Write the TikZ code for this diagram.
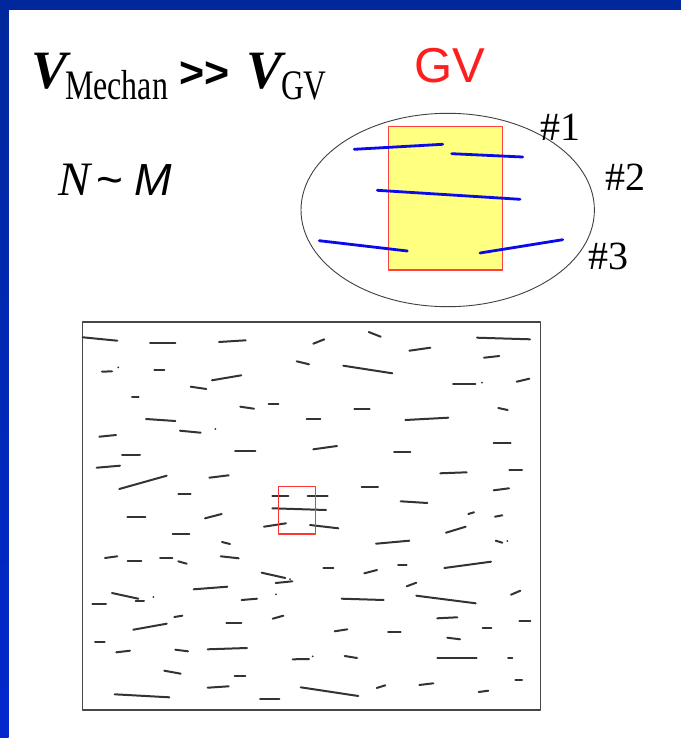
\documentclass[tikz,border=0pt]{standalone}
\usepackage{fontspec}
\usepackage{graphicx}
\usepackage{xcolor}
\usepackage{tikz}
\newfontfamily\tmsfont{Liberation Serif}
\newfontfamily\arlfont{Liberation Sans}
\definecolor{barblue}{RGB}{0,40,156}
\definecolor{barblue2}{RGB}{0,40,205}
\definecolor{gvred}{RGB}{255,30,30}
\definecolor{gvyellow}{RGB}{255,255,128}
\definecolor{segblue}{RGB}{10,10,235}

\begin{document}
\begin{tikzpicture}[x=1pt, y=-1pt, line cap=round, line join=round,
		fibre/.style={line width=2pt, black!80},
		bluefibre/.style={line width=2.8pt, segblue},
		hashlbl/.style={anchor=base west, font=\tmsfont\fontsize{40}{40}\selectfont}]
		\useasboundingbox (0,0) rectangle (681,738);
		% frame of the slide
		\fill[white] (0,0) rectangle (681,738);
		\shade[top color=barblue, bottom color=barblue2] (0,0) rectangle (8.7,738);
		\fill[barblue] (0,0) rectangle (681,10);
		
		% velocities
		\node[anchor=base west, inner sep=0] (vmech) at (31,89) {\tmsfont\fontsize{54}{54}\selectfont\bfseries\itshape V};
		\node[anchor=base west, inner sep=0] (mechan) at (65,100) {\scalebox{0.76}[1]{\tmsfont\fontsize{42}{42}\selectfont Mechan}};
		\node[anchor=base west, inner sep=0] (gg) at (179,88) {\arlfont\fontsize{43}{43}\selectfont\bfseries >>};
		\node[anchor=base west, inner sep=0] (vgv) at (246,89) {\tmsfont\fontsize{54}{54}\selectfont\bfseries\itshape V};
		\node[anchor=base west, inner sep=0] (gvsub) at (281,100) {\scalebox{0.75}[1]{\tmsfont\fontsize{42}{42}\selectfont GV}};
		\node[anchor=base west, inner sep=0] (nn) at (58,195) {\tmsfont\fontsize{48}{48}\selectfont\itshape N};
		\node[anchor=base west, inner sep=0] (tilde) at (96,195) {\arlfont\fontsize{46}{46}\selectfont\textasciitilde};
		\node[anchor=base west, inner sep=0] (mm) at (134,195) {\arlfont\fontsize{45}{45}\selectfont\itshape M};
		
		% the gauge volume
		\node[anchor=base west, inner sep=0, text=gvred] (gvtitle) at (414,83) {\arlfont\fontsize{49}{49}\selectfont GV};
		\draw[line width=0.9pt, black!75] (447.7,210) ellipse [x radius=146.7, y radius=96.7];
		\filldraw[fill=gvyellow, draw=gvred!85, line width=1.2pt] (388.7,126.3) rectangle (502.7,270);
		\foreach \xa/\ya/\xb/\yb in {354.3/149.3/442.7/144.3, 451.7/153.7/522.7/157,
			377.3/190.3/520/199.3, 319.3/240.7/407.3/251, 480/253/562.7/239.7}
		\draw[bluefibre] (\xa,\ya) -- (\xb,\yb);
		\node[hashlbl, inner sep=0] (one) at (540,141) {\#1};
		\node[hashlbl, inner sep=0] (two) at (605,190) {\#2};
		\node[hashlbl, inner sep=0] (three) at (588,269) {\#3};
		
		% the whole sample
		\draw[line width=1.5pt, black!72] (82.7,322) rectangle (540.7,710);
		\foreach \xa/\ya/\xb/\yb in {82.7/337.3/117.3/340.7, 150/343.3/175.3/343.3, 219/342/245.7/340.3,
			313.3/343.7/324.3/339.3, 368.7/332/380.7/336.7, 409.3/350.7/430.3/347.7, 477/337.7/530/339.3,
			484/357.7/499.3/356, 102/371.7/112/371.3, 154.3/370.3/164.3/370.3, 212/380.3/241.3/375.3,
			190.7/386.7/206.3/389, 296.7/361.3/309/364.3, 343.3/365.7/392.3/373.3, 453/384/475.3/384,
			516.7/381.7/529.3/378.7, 132/397/138.7/397, 240.3/406.7/254/408.7, 268.7/404/278.3/404,
			354.3/409.3/369.7/409.3, 498.3/408/507.7/410, 146/419/175.3/421, 180/430.7/200.7/432.7,
			306.7/419.3/320.3/419.3, 405.3/420/448.3/417.7, 99.3/436.7/116/435, 235/450.7/255.3/450.7,
			313.3/449.3/337/446, 394/452/410.3/452, 493.7/443.3/510.7/443.3, 122/455/140/455,
			96.7/467.7/120/465.7, 440.3/473.3/466.7/472.3, 509.3/470.3/522/470.3, 119.3/489/166.7/475.7,
			209.3/477.7/228.7/475.3, 178.3/494/190.7/494, 361.7/487.3/378/487.3, 493.7/490.3/509/488.3,
			272.3/495.7/288.3/495.7, 307.7/495.7/327.7/495.7, 272.3/508.3/326/510, 400.7/501.3/427.3/503,
			127.3/516.7/145.3/516.7, 205/518.3/221.7/514, 468.3/514/474/512.3, 495/516.7/502.3/515.3,
			264/526.7/286/523.3, 310/525/338.3/528.3, 172.7/533.7/189.3/533.7, 446/532.7/465.7/526.7,
			222/542/230/544, 376/543.7/409.3/540.7, 495.7/540.7/502.3/542.7, 105/558/117.3/556.3,
			127.7/560.7/141.3/560.7, 160/558/172.3/558, 178.3/561.3/186.7/563.7, 220.7/556.3/238.7/558.3,
			323.3/567.7/333.3/567.7, 364.3/573.3/377/570, 398/564.7/406.7/564.7, 444.3/568/491/561.7,
			261.7/572.7/285.3/578, 275.7/583/292.3/581.3, 193.7/589.3/227.3/586.7, 406.7/586.3/416.3/582.7,
			112/593/138.3/598.7, 135.7/601.3/144/601.3, 92.3/604.3/106/604.3, 241.7/600/257/598.7,
			341.7/598.7/383.7/600, 416.3/595.7/475.7/603.3, 511/594.7/520.3/590.7, 174.3/617/182.3/615.7,
			133.3/629.7/166.7/623.7, 226.3/622.7/241.3/622.7, 272.7/618.7/283.3/615.7, 437.3/618.3/457.3/617.3,
			519.3/621.3/530.3/621.3, 334.7/631.3/347.3/629.3, 482.7/628.3/491.3/628.3, 388/632.3/400.7/632.3,
			447.3/637.7/460/639.3, 95/642.3/104.7/642.3, 116.3/652.3/130/650.7, 175.3/649.7/188/651.3,
			207.7/649.3/247/648, 292.7/659.3/309/659, 344.7/656/357/658, 437.3/657.7/476.7/657.7,
			508/657.7/512.3/657.7, 164.3/670.7/180.7/673.7, 234.7/676/245.3/676, 515.3/680.3/522/680.3,
			207.7/687.7/228.7/686.3, 376.7/688/385.3/685.3, 419.3/685/433.3/683.3, 478.7/692/488.3/690.7,
			114.7/694.3/169.3/697.3, 300.7/687.3/358.3/696, 260/699/279.3/699}
		\draw[fibre] (\xa,\ya) -- (\xb,\yb);
		\foreach \xa/\ya in {118.3/367.3, 215.3/429, 482/382.7, 290/579, 153.3/597, 276/594.3, 312.7/656.3, 507.3/541}
		\fill[black!80] (\xa,\ya) circle [radius=1pt];
		\draw[line width=1.3pt, gvred!90] (278.3,486.7) rectangle (315.7,534);
	\end{tikzpicture}
\end{document}
